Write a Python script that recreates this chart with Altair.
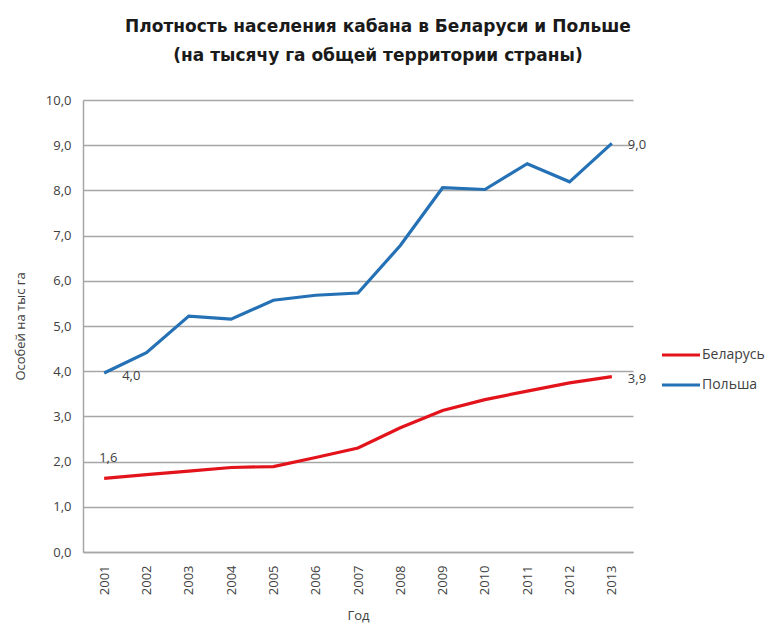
import altair as alt
import pandas as pd

years = [str(y) for y in range(2001, 2014)]
belarus = [1.63, 1.71, 1.79, 1.87, 1.89, 2.09, 2.30, 2.75, 3.13, 3.37, 3.56, 3.74, 3.88]
poland = [3.96, 4.41, 5.22, 5.15, 5.57, 5.68, 5.73, 6.78, 8.06, 8.02, 8.59, 8.19, 9.04]
series = ["Беларусь", "Польша"]
colors = ["#e3131b", "#2471b5"]
title_lines = ["Плотность населения кабана в Беларуси и Польше",
               "(на тысячу га общей территории страны)"]

rows = []
for name, vals in zip(series, [belarus, poland]):
    for yr, v in zip(years, vals):
        rows.append({"Год": yr, "Страна": name, "v": v})
df = pd.DataFrame(rows)

FONT = "Open Sans"
TXT = "#404040"
GRID = "#a6a6a6"

base = alt.Chart(df).transform_calculate(
    label="replace(format(datum.v, '.1f'), '.', ',')"
)

x = alt.X("Год:N", sort=years, title="Год",
          axis=alt.Axis(labelAngle=270, ticks=False, labelPadding=13, labelFontSize=13,
                        titleFontSize=13, titleFontWeight="normal", titlePadding=15,
                        domainColor=GRID, domainWidth=1.5, labelColor=TXT, titleColor=TXT,
                        labelFont=FONT, titleFont=FONT))
y = alt.Y("v:Q", title="Особей на тыс га",
          scale=alt.Scale(domain=[0, 10], nice=False),
          axis=alt.Axis(values=list(range(0, 11)),
                        labelExpr="replace(format(datum.value, '.1f'), '.', ',')",
                        ticks=False, labelPadding=12, labelFontSize=13,
                        titleFontSize=13, titleFontWeight="normal", titlePadding=18,
                        domainColor=GRID, domainWidth=1.5, gridColor=GRID, gridWidth=1.5,
                        labelColor=TXT, titleColor=TXT, labelFont=FONT, titleFont=FONT))

lines = base.mark_line(strokeWidth=3.2).encode(
    x=x, y=y,
    color=alt.Color("Страна:N", scale=alt.Scale(domain=series, range=colors),
                    legend=alt.Legend(orient="none", legendX=577, legendY=234, title=None,
                                      symbolType="stroke", symbolSize=1444,
                                      symbolStrokeWidth=3.2, labelFontSize=14,
                                      labelFont=FONT, labelColor=TXT, rowPadding=2,
                                      labelOffset=0))
)

txt_enc = dict(x=alt.X("Год:N", sort=years), y=alt.Y("v:Q"), text="label:N")

lab_pl_first = base.transform_filter(
    "datum['Год'] == '2001' && datum['Страна'] == 'Польша'"
).mark_text(align="left", baseline="middle", dx=18, dy=3, fontSize=13, font=FONT,
            color=TXT).encode(**txt_enc)

lab_by_first = base.transform_filter(
    "datum['Год'] == '2001' && datum['Страна'] == 'Беларусь'"
).mark_text(align="left", baseline="middle", dx=-5, dy=-20, fontSize=13, font=FONT,
            color=TXT).encode(**txt_enc)

lab_last = base.transform_filter(
    "datum['Год'] == '2013'"
).mark_text(align="left", baseline="middle", dx=16, dy=2, fontSize=13, font=FONT,
            color=TXT).encode(**txt_enc)

chart = alt.layer(lines, lab_pl_first, lab_by_first, lab_last).properties(
    width=550, height=452,
    title=alt.TitleParams(text=title_lines, fontSize=17, fontWeight="bold",
                          font="DejaVu Sans", anchor="middle", dx=20, offset=29,
                          lineHeight=29, color="#1a1a1a"),
    autosize=alt.AutoSizeParams(type="none"),
    padding={"left": 75, "top": 92, "right": 137, "bottom": 77},
).configure_view(stroke=None)

chart.save("out.html", embed_options={"renderer": "svg", "actions": False})
